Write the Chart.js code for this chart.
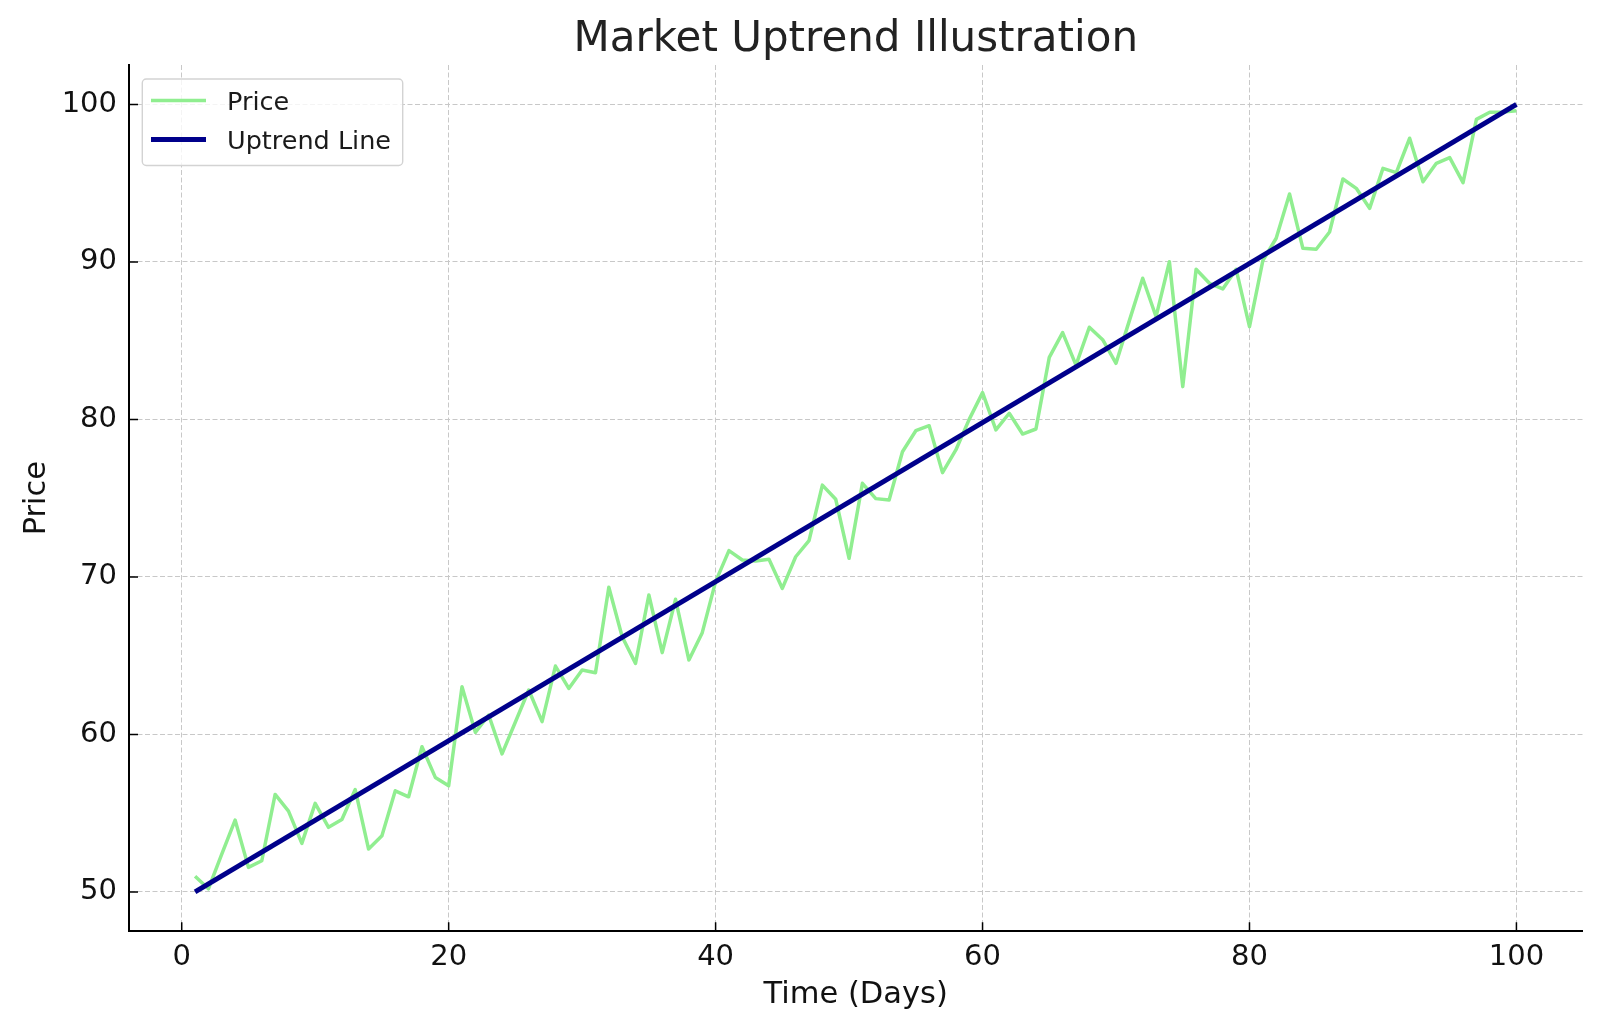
<!DOCTYPE html>
<html>
<head>
<meta charset="utf-8">
<script src="https://cdn.jsdelivr.net/npm/chart.js@4.4.1/dist/chart.umd.min.js"></script>
<style>
html, body { margin: 0; padding: 0; background: #ffffff; }
#wrap { width: 1600px; height: 1032px; }
canvas { display: block; }
</style>
</head>
<body>
<div id="wrap"><canvas id="c" width="1600" height="1032"></canvas></div>
<script>
// ---------- data ----------
const chartTitle = 'Market Uptrend Illustration';
const xAxisTitle = 'Time (Days)';
const yAxisTitle = 'Price';
const seriesLabels = ['Price', 'Uptrend Line'];

const days = [
  1, 2, 3, 4, 5, 6, 7, 8, 9, 10,
  11, 12, 13, 14, 15, 16, 17, 18, 19, 20,
  21, 22, 23, 24, 25, 26, 27, 28, 29, 30,
  31, 32, 33, 34, 35, 36, 37, 38, 39, 40,
  41, 42, 43, 44, 45, 46, 47, 48, 49, 50,
  51, 52, 53, 54, 55, 56, 57, 58, 59, 60,
  61, 62, 63, 64, 65, 66, 67, 68, 69, 70,
  71, 72, 73, 74, 75, 76, 77, 78, 79, 80,
  81, 82, 83, 84, 85, 86, 87, 88, 89, 90,
  91, 92, 93, 94, 95, 96, 97, 98, 99, 100
];

const prices = [
  51.0, 50.2, 52.4, 54.56, 51.56, 51.98, 56.19, 55.13, 53.08, 55.62,
  54.1, 54.6, 56.5, 52.72, 53.57, 56.42, 56.04, 59.22, 57.27, 56.74,
  63.03, 60.13, 61.23, 58.76, 60.79, 62.82, 60.81, 64.34, 62.92, 64.09,
  63.92, 69.34, 66.2, 64.51, 68.85, 65.19, 68.58, 64.72, 66.46, 69.7,
  71.67, 71.07, 71.01, 71.12, 69.27, 71.28, 72.3, 75.83, 74.93, 71.18,
  75.94, 74.97, 74.88, 77.95, 79.28, 79.6, 76.62, 78.06, 80.0, 81.7,
  79.33, 80.39, 79.07, 79.39, 83.94, 85.51, 83.45, 85.85, 85.06, 83.56,
  86.27, 88.96, 86.52, 90.01, 82.08, 89.53, 88.64, 88.28, 89.53, 85.89,
  90.08, 91.5, 94.31, 90.86, 90.8, 91.9, 95.26, 94.67, 93.4, 95.94,
  95.67, 97.85, 95.09, 96.26, 96.62, 95.03, 99.05, 99.5, 99.52, 99.6
];

const uptrendDays = [1, 100];
const uptrendValues = [50, 100];

const xTickValues = [0, 20, 40, 60, 80, 100];
const yTickValues = [50, 60, 70, 80, 90, 100];

// ---------- styles ----------
const FONT = "'DejaVu Sans', 'Liberation Sans', sans-serif";
const TEXT_COLOR = '#111111';
const GRID_COLOR = 'rgba(200,200,200,1)';
const PRICE_COLOR = '#90EE90';
const TREND_COLOR = '#00008B';

const legendStyle = {
  left: 142.3, top: 79, right: 402.7, bottom: 165.5, radius: 4,
  lineX1: 151, lineX2: 206, textX: 227, rowY: [100.4, 139.6], fontSize: 25.5
};

// ---------- plugins ----------
const titlePlugin = {
  id: 'mplTitle',
  afterDraw(chart) {
    const { ctx, chartArea } = chart;
    ctx.save();
    ctx.font = `42px ${FONT}`;
    ctx.fillStyle = '#222222';
    ctx.textAlign = 'center';
    ctx.textBaseline = 'alphabetic';
    ctx.fillText(chartTitle, (chartArea.left + chartArea.right) / 2, 51);
    ctx.restore();
  }
};

const inwardTicks = {
  id: 'inwardTicks',
  afterDatasetsDraw(chart) {
    const { ctx, chartArea: a, scales } = chart;
    const len = 9;
    ctx.save();
    ctx.strokeStyle = '#000000';
    ctx.lineWidth = 1.5;
    ctx.setLineDash([]);
    ctx.beginPath();
    scales.x.ticks.forEach(t => {
      const px = scales.x.getPixelForValue(t.value);
      ctx.moveTo(px, a.bottom);
      ctx.lineTo(px, a.bottom - len);
    });
    scales.y.ticks.forEach(t => {
      const py = scales.y.getPixelForValue(t.value);
      ctx.moveTo(a.left, py);
      ctx.lineTo(a.left + len, py);
    });
    ctx.stroke();
    ctx.restore();
  }
};

const legendPlugin = {
  id: 'mplLegend',
  afterDraw(chart) {
    const { ctx } = chart;
    const s = legendStyle;
    ctx.save();
    const r = s.radius;
    ctx.beginPath();
    ctx.moveTo(s.left + r, s.top);
    ctx.lineTo(s.right - r, s.top);
    ctx.arcTo(s.right, s.top, s.right, s.top + r, r);
    ctx.lineTo(s.right, s.bottom - r);
    ctx.arcTo(s.right, s.bottom, s.right - r, s.bottom, r);
    ctx.lineTo(s.left + r, s.bottom);
    ctx.arcTo(s.left, s.bottom, s.left, s.bottom - r, r);
    ctx.lineTo(s.left, s.top + r);
    ctx.arcTo(s.left, s.top, s.left + r, s.top, r);
    ctx.closePath();
    ctx.fillStyle = 'rgba(255,255,255,0.8)';
    ctx.fill();
    ctx.strokeStyle = '#d3d3d3';
    ctx.lineWidth = 1.4;
    ctx.stroke();
    chart.data.datasets.forEach((ds, i) => {
      const y = s.rowY[i];
      ctx.beginPath();
      ctx.strokeStyle = ds.borderColor;
      ctx.lineWidth = ds.borderWidth;
      ctx.lineCap = 'butt';
      ctx.moveTo(s.lineX1, y);
      ctx.lineTo(s.lineX2, y);
      ctx.stroke();
      ctx.font = `${s.fontSize}px ${FONT}`;
      ctx.fillStyle = '#1a1a1a';
      ctx.textAlign = 'left';
      ctx.textBaseline = 'alphabetic';
      ctx.fillText(ds.label, s.textX, y + 0.3645 * s.fontSize);
    });
    ctx.restore();
  }
};

// ---------- chart ----------
const priceData = days.map((d, i) => ({ x: d, y: prices[i] }));
const trendData = uptrendDays.map((d, i) => ({ x: d, y: uptrendValues[i] }));

new Chart(document.getElementById('c'), {
  type: 'line',
  data: {
    datasets: [
      {
        label: seriesLabels[0], data: priceData,
        borderColor: PRICE_COLOR, backgroundColor: PRICE_COLOR,
        borderWidth: 3.5, pointRadius: 0, tension: 0, fill: false, order: 2,
        borderJoinStyle: 'round', borderCapStyle: 'butt'
      },
      {
        label: seriesLabels[1], data: trendData,
        borderColor: TREND_COLOR, backgroundColor: TREND_COLOR,
        borderWidth: 5, pointRadius: 0, tension: 0, fill: false, order: 1,
        borderCapStyle: 'butt'
      }
    ]
  },
  options: {
    responsive: false,
    animation: false,
    devicePixelRatio: 1,
    layout: { padding: { top: 65, right: 17.5, left: 0, bottom: 0 } },
    plugins: {
      legend: { display: false },
      title: { display: false },
      tooltip: { enabled: false }
    },
    scales: {
      x: {
        type: 'linear', min: -3.95, max: 104.95, bounds: 'data',
        afterBuildTicks: s => { s.ticks = xTickValues.map(v => ({ value: v })); },
        afterFit: s => { s.height = 100.7; },
        ticks: {
          font: { family: FONT, size: 29 }, color: TEXT_COLOR, padding: 8.5,
          maxRotation: 0, autoSkip: false, callback: v => String(v)
        },
        grid: { color: GRID_COLOR, lineWidth: 1, drawTicks: false, tickLength: 0 },
        border: { display: true, color: '#000000', width: 2, dash: [5, 2.5] },
        title: {
          display: true, text: xAxisTitle, color: TEXT_COLOR,
          font: { family: FONT, size: 30.5 }, padding: { top: 0, bottom: 18.5 }
        }
      },
      y: {
        type: 'linear', min: 47.5, max: 102.5, bounds: 'data',
        afterBuildTicks: s => { s.ticks = yTickValues.map(v => ({ value: v })); },
        afterFit: s => { s.width = 129; },
        ticks: {
          font: { family: FONT, size: 29 }, color: TEXT_COLOR, padding: 12,
          autoSkip: false, callback: v => String(v)
        },
        grid: { color: GRID_COLOR, lineWidth: 1, drawTicks: false, tickLength: 0 },
        border: { display: true, color: '#000000', width: 2, dash: [5, 2.5] },
        title: {
          display: true, text: yAxisTitle, color: TEXT_COLOR,
          font: { family: FONT, size: 30.5 }, padding: { top: 18.5, bottom: 0 }
        }
      }
    }
  },
  plugins: [titlePlugin, inwardTicks, legendPlugin]
});
</script>
</body>
</html>
